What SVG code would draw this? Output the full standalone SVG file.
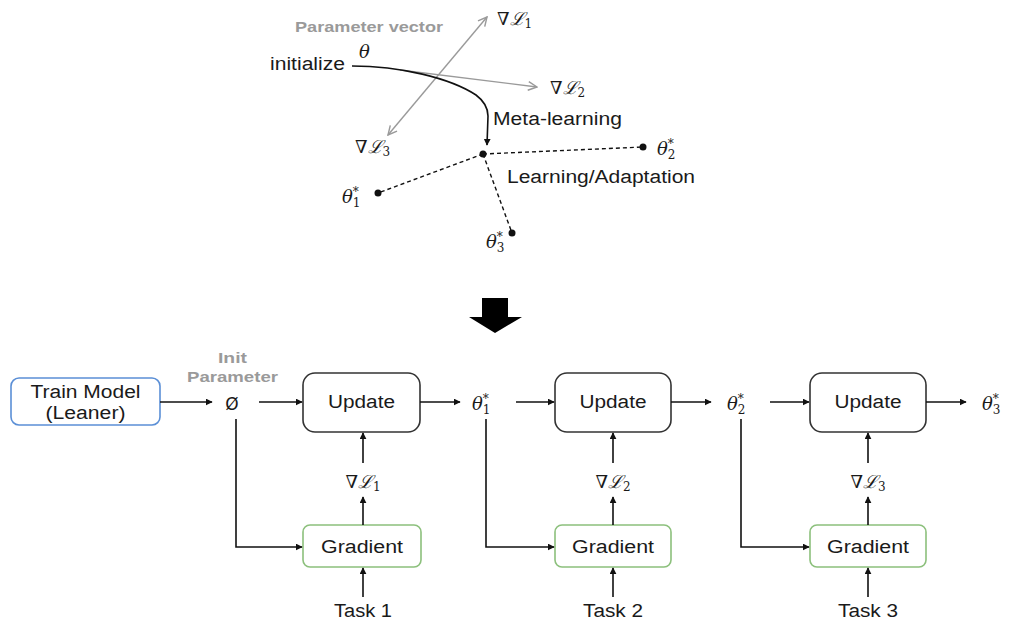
<svg xmlns="http://www.w3.org/2000/svg" width="1011" height="624" viewBox="0 0 1011 624">
<defs>
<marker id="ah" viewBox="0 0 10 10" refX="9" refY="5" markerWidth="7" markerHeight="7" orient="auto-start-reverse" markerUnits="userSpaceOnUse">
<path d="M0,0 L10,5 L0,10 Z" fill="#111"/>
</marker>
<marker id="gh" viewBox="0 0 10 10" refX="9" refY="5" markerWidth="11" markerHeight="11" orient="auto-start-reverse" markerUnits="userSpaceOnUse">
<path d="M1,1 L9,5 L1,9" fill="none" stroke="#9a9a9a" stroke-width="1.3"/>
</marker>
<style>
.t{font-family:"Liberation Sans",Arial,sans-serif;font-size:18px;fill:#1a1a1a}
.g{font-family:"Liberation Sans",Arial,sans-serif;font-weight:bold;fill:#9a9a9a}
.m{font-family:"DejaVu Serif",serif;font-style:italic;font-size:18px;fill:#1a1a1a}
.s{font-size:12px;font-style:normal}
.c{fill:none;stroke:#111;stroke-width:1.6}
.gr{fill:none;stroke:#9a9a9a;stroke-width:1.4}
.d{fill:none;stroke:#111;stroke-width:1.4;stroke-dasharray:4 3}
.box{fill:#fff;stroke-width:1.6}
</style>
</defs>

<g id="top-diagram">
<text class="g" x="295" y="32" font-size="14" textLength="148" lengthAdjust="spacingAndGlyphs">Parameter vector</text>
<text class="t" x="270" y="70" textLength="75" lengthAdjust="spacingAndGlyphs">initialize</text>
<text class="m" x="359" y="58" font-size="19">θ</text>
<line class="gr" x1="388" y1="135" x2="487" y2="17" marker-start="url(#gh)" marker-end="url(#gh)"/>
<line class="gr" x1="400" y1="70" x2="537" y2="87" marker-end="url(#gh)"/>
<path class="c" d="M352,66 C400,66 450,78 476,95 Q488,104 488,116 L487,145" marker-end="url(#ah)"/>
<text class="m" x="497" y="25">∇ℒ<tspan class="s" dy="3">1</tspan></text>
<text class="m" x="550" y="94">∇ℒ<tspan class="s" dy="3">2</tspan></text>
<text class="m" x="355" y="153">∇ℒ<tspan class="s" dy="3">3</tspan></text>
<text class="t" x="493" y="125" textLength="129" lengthAdjust="spacingAndGlyphs">Meta-learning</text>
<text class="t" x="507" y="183" textLength="188" lengthAdjust="spacingAndGlyphs">Learning/Adaptation</text>
<line class="d" x1="483" y1="154" x2="643" y2="147"/>
<line class="d" x1="483" y1="154" x2="378" y2="193"/>
<line class="d" x1="483" y1="154" x2="512" y2="233"/>
<circle cx="483" cy="154" r="3.5" fill="#111"/>
<circle cx="643" cy="147" r="3.5" fill="#111"/>
<circle cx="378" cy="193" r="3.5" fill="#111"/>
<circle cx="512" cy="233" r="3.5" fill="#111"/>
<text class="m" x="657" y="155">θ<tspan class="s" dy="-7">*</tspan><tspan class="s" dx="-6" dy="11">2</tspan></text>
<text class="m" x="342" y="203">θ<tspan class="s" dy="-7">*</tspan><tspan class="s" dx="-6" dy="11">1</tspan></text>
<text class="m" x="486" y="248">θ<tspan class="s" dy="-7">*</tspan><tspan class="s" dx="-6" dy="11">3</tspan></text>
</g>

<g id="big-arrow">
<path d="M482,298 L508,298 L508,317 L522,317 L495,333 L469,317 L482,317 Z" fill="#000"/>
</g>

<g id="train-model">
<rect class="box" x="11" y="378" width="149" height="47" rx="8" stroke="#5b8fd6"/>
<text class="t" x="85.5" y="398" text-anchor="middle" textLength="110" lengthAdjust="spacingAndGlyphs">Train Model</text>
<text class="t" x="85.5" y="419" text-anchor="middle" textLength="80" lengthAdjust="spacingAndGlyphs">(Leaner)</text>
</g>

<g id="init-param">
<text class="g" x="232.5" y="363" font-size="15" text-anchor="middle" textLength="29" lengthAdjust="spacingAndGlyphs">Init</text>
<text class="g" x="232.5" y="382" font-size="15" text-anchor="middle" textLength="91" lengthAdjust="spacingAndGlyphs">Parameter</text>
<text x="232" y="410" text-anchor="middle" font-family="DejaVu Sans, sans-serif" font-size="17" fill="#1a1a1a">Ø</text>
</g>

<g id="update1">
<rect class="box" x="303" y="373" width="117" height="59" rx="12" stroke="#333"/>
<text class="t" x="361.5" y="408" text-anchor="middle" textLength="67" lengthAdjust="spacingAndGlyphs">Update</text>
</g>
<g id="update2">
<rect class="box" x="555" y="373" width="116" height="59" rx="12" stroke="#333"/>
<text class="t" x="613" y="408" text-anchor="middle" textLength="67" lengthAdjust="spacingAndGlyphs">Update</text>
</g>
<g id="update3">
<rect class="box" x="810" y="373" width="116" height="59" rx="12" stroke="#333"/>
<text class="t" x="868" y="408" text-anchor="middle" textLength="67" lengthAdjust="spacingAndGlyphs">Update</text>
</g>

<g id="gradient1">
<rect class="box" x="303" y="525" width="118" height="42" rx="7" stroke="#8cc07c"/>
<text class="t" x="362" y="553" text-anchor="middle" textLength="82" lengthAdjust="spacingAndGlyphs">Gradient</text>
</g>
<g id="gradient2">
<rect class="box" x="555" y="525" width="116" height="42" rx="7" stroke="#8cc07c"/>
<text class="t" x="613" y="553" text-anchor="middle" textLength="82" lengthAdjust="spacingAndGlyphs">Gradient</text>
</g>
<g id="gradient3">
<rect class="box" x="810" y="525" width="116" height="42" rx="7" stroke="#8cc07c"/>
<text class="t" x="868" y="553" text-anchor="middle" textLength="82" lengthAdjust="spacingAndGlyphs">Gradient</text>
</g>

<g id="labels">
<text class="m" x="363" y="488" text-anchor="middle">∇ℒ<tspan class="s" dy="3">1</tspan></text>
<text class="m" x="613" y="488" text-anchor="middle">∇ℒ<tspan class="s" dy="3">2</tspan></text>
<text class="m" x="868" y="488" text-anchor="middle">∇ℒ<tspan class="s" dy="3">3</tspan></text>
<text class="m" x="472" y="410">θ<tspan class="s" dy="-7">*</tspan><tspan class="s" dx="-6" dy="11">1</tspan></text>
<text class="m" x="727" y="410">θ<tspan class="s" dy="-7">*</tspan><tspan class="s" dx="-6" dy="11">2</tspan></text>
<text class="m" x="982" y="410">θ<tspan class="s" dy="-7">*</tspan><tspan class="s" dx="-6" dy="11">3</tspan></text>
<text class="t" x="363" y="617" text-anchor="middle" textLength="58" lengthAdjust="spacingAndGlyphs">Task 1</text>
<text class="t" x="613" y="617" text-anchor="middle" textLength="60" lengthAdjust="spacingAndGlyphs">Task 2</text>
<text class="t" x="868" y="617" text-anchor="middle" textLength="60" lengthAdjust="spacingAndGlyphs">Task 3</text>
</g>

<g id="connectors">
<line class="c" x1="160" y1="402" x2="212" y2="402" marker-end="url(#ah)"/>
<line class="c" x1="259" y1="402" x2="302" y2="402" marker-end="url(#ah)"/>
<line class="c" x1="420" y1="402" x2="460" y2="402" marker-end="url(#ah)"/>
<line class="c" x1="516" y1="402" x2="554" y2="402" marker-end="url(#ah)"/>
<line class="c" x1="671" y1="402" x2="711" y2="402" marker-end="url(#ah)"/>
<line class="c" x1="770" y1="402" x2="809" y2="402" marker-end="url(#ah)"/>
<line class="c" x1="926" y1="402" x2="966" y2="402" marker-end="url(#ah)"/>
<line class="c" x1="363" y1="463" x2="363" y2="433" marker-end="url(#ah)"/>
<line class="c" x1="613" y1="463" x2="613" y2="433" marker-end="url(#ah)"/>
<line class="c" x1="868" y1="463" x2="868" y2="433" marker-end="url(#ah)"/>
<line class="c" x1="363" y1="525" x2="363" y2="497" marker-end="url(#ah)"/>
<line class="c" x1="613" y1="525" x2="613" y2="497" marker-end="url(#ah)"/>
<line class="c" x1="868" y1="525" x2="868" y2="497" marker-end="url(#ah)"/>
<line class="c" x1="363" y1="597" x2="363" y2="568" marker-end="url(#ah)"/>
<line class="c" x1="613" y1="597" x2="613" y2="568" marker-end="url(#ah)"/>
<line class="c" x1="868" y1="597" x2="868" y2="568" marker-end="url(#ah)"/>
<path class="c" d="M236,419 L236,547 L302,547" marker-end="url(#ah)"/>
<path class="c" d="M486,419 L486,547 L554,547" marker-end="url(#ah)"/>
<path class="c" d="M741,419 L741,547 L809,547" marker-end="url(#ah)"/>
</g>
</svg>
